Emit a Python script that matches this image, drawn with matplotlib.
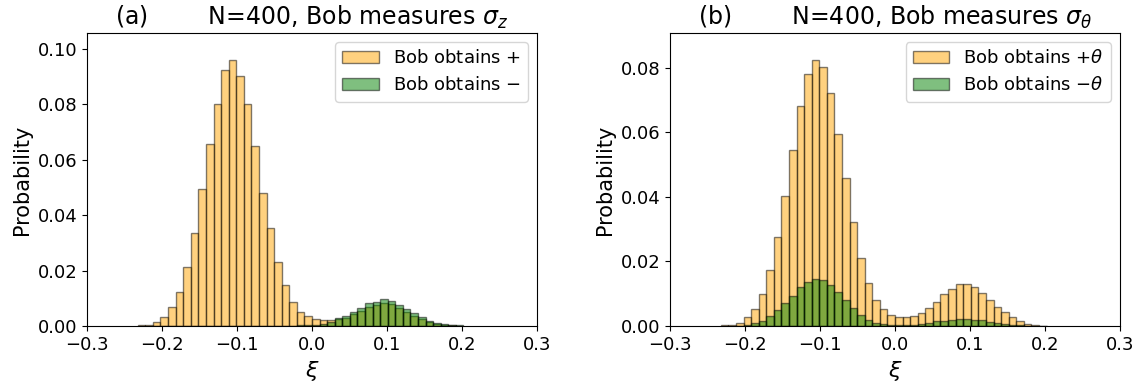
import numpy as np
import matplotlib
matplotlib.use('Agg')
import matplotlib.pyplot as plt

# histogram bins in xi (same for both panels)
xi_edges = np.linspace(-0.2323, 0.2020, 44)
xi_centers = 0.5 * (xi_edges[:-1] + xi_edges[1:])

# (a) Bob measures sigma_z
prob_plus_z = [0.0003, 0.0003, 0.0016, 0.0033, 0.0070, 0.0124, 0.0212, 0.0337, 0.0494, 0.0658,
               0.0801, 0.0923, 0.0961, 0.0901, 0.0801, 0.0651, 0.0480, 0.0353, 0.0232, 0.0148,
               0.0086, 0.0052, 0.0036, 0.0025, 0.0022, 0.0022, 0.0024, 0.0030, 0.0042, 0.0055,
               0.0070, 0.0077, 0.0084, 0.0079, 0.0065, 0.0051, 0.0037, 0.0026, 0.0014, 0.0008,
               0.0004, 0.0002, 0.0001]
prob_minus_z = [0.0, 0.0, 0.0, 0.0, 0.0, 0.0, 0.0, 0.0, 0.0, 0.0,
                0.0, 0.0, 0.0, 0.0, 0.0, 0.0, 0.0, 0.0, 0.0, 0.0,
                0.0, 0.0002, 0.0003, 0.0005, 0.0007, 0.0013, 0.0028, 0.0037, 0.0052, 0.0066,
                0.0082, 0.0088, 0.0096, 0.0090, 0.0076, 0.0061, 0.0046, 0.0034, 0.0019, 0.0012,
                0.0006, 0.0003, 0.0002]

# (b) Bob measures sigma_theta
prob_plus_t = [0.0002, 0.0003, 0.0010, 0.0029, 0.0052, 0.0098, 0.0174, 0.0277, 0.0404, 0.0546,
               0.0682, 0.0781, 0.0825, 0.0802, 0.0721, 0.0594, 0.0458, 0.0323, 0.0211, 0.0132,
               0.0082, 0.0052, 0.0034, 0.0027, 0.0027, 0.0030, 0.0039, 0.0056, 0.0075, 0.0098,
               0.0114, 0.0131, 0.0131, 0.0122, 0.0103, 0.0081, 0.0060, 0.0044, 0.0027, 0.0016,
               0.0006, 0.0002, 0.0001]
prob_minus_t = [0.0, 0.0, 0.0001, 0.0003, 0.0010, 0.0016, 0.0031, 0.0050, 0.0070, 0.0094,
                0.0120, 0.0135, 0.0145, 0.0141, 0.0127, 0.0106, 0.0082, 0.0057, 0.0035, 0.0019,
                0.0010, 0.0006, 0.0003, 0.0002, 0.0003, 0.0003, 0.0007, 0.0010, 0.0014, 0.0017,
                0.0020, 0.0023, 0.0023, 0.0019, 0.0019, 0.0013, 0.0008, 0.0006, 0.0004, 0.0002,
                0.0001, 0.0, 0.0]

panels = [
    ('(a)', r'N=400, Bob measures $\sigma_z$', prob_plus_z, prob_minus_z,
     r'Bob obtains $+$', r'Bob obtains $-$'),
    ('(b)', r'N=400, Bob measures $\sigma_\theta$', prob_plus_t, prob_minus_t,
     r'Bob obtains $+\theta$', r'Bob obtains $-\theta$'),
]

fig = plt.figure(figsize=(11.43, 3.87), dpi=100)
lefts = [0.0761, 0.5862]

for left, (tag, title, plus, minus, lab_p, lab_m) in zip(lefts, panels):
    ax = fig.add_axes([left, 0.1576, 0.3937, 0.757])
    ax.hist(xi_centers, bins=xi_edges, weights=plus, color='orange', alpha=0.5,
            edgecolor='black', label=lab_p)
    ax.hist(xi_centers, bins=xi_edges, weights=minus, color='green', alpha=0.5,
            edgecolor='black', label=lab_m)
    ax.set_xlim(-0.3, 0.3)
    ax.set_ylim(0, 1.1 * max(max(plus), max(minus)))
    ax.set_xticks([-0.3, -0.2, -0.1, 0.0, 0.1, 0.2, 0.3])
    ax.tick_params(labelsize=13)
    ax.set_xlabel(r'$\xi$', fontsize=16)
    ax.set_ylabel('Probability', fontsize=15)
    ax.set_title(tag + '        ' + title, fontsize=17)
    ax.legend(loc='upper right', fontsize=13)

fig.savefig('out.png', dpi=100)
